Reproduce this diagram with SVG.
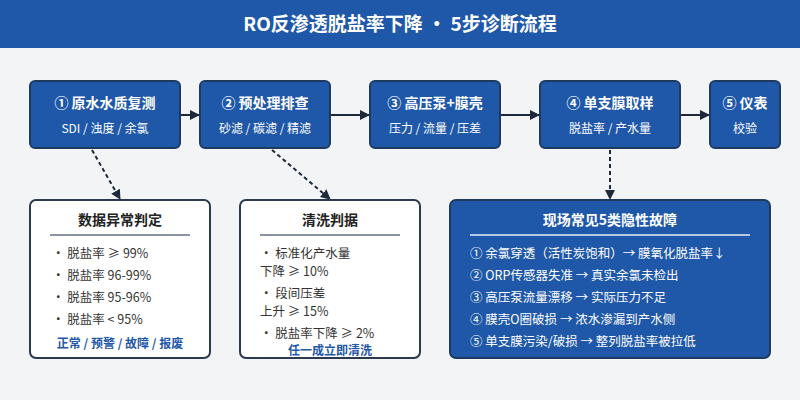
<svg xmlns="http://www.w3.org/2000/svg" width="800" height="400" viewBox="0 0 800 400">
<style>
text{font-family:"Noto Sans CJK SC","Noto Sans",sans-serif}
.n{fill:#1f58a8;stroke:#1e3a5f;stroke-width:2}
.t{fill:#fff;font-size:14px;font-weight:bold;text-anchor:middle}
.s{fill:#fff;font-size:12px;text-anchor:middle}
.w{fill:#fff;stroke:#2b3a4d;stroke-width:2}
.h{fill:#222;font-size:14px;font-weight:bold;text-anchor:middle}
.b{fill:#333;font-size:12.5px}
.c{fill:#1f58a8;font-size:12px;font-weight:bold;text-anchor:middle}
.f{fill:#fff;font-size:12.5px}
</style>
<defs>
<marker id="a" markerWidth="10" markerHeight="10" refX="9" refY="5" orient="auto" markerUnits="userSpaceOnUse"><path d="M0,0L10,5L0,10z" fill="#1e2a3a"/></marker>
</defs>
<rect width="800" height="400" fill="#f3f4f6"/>
<rect width="800" height="48" fill="#1f58a8"/>
<text x="400" y="31" text-anchor="middle" fill="#fff" font-size="19" font-weight="bold">RO反渗透脱盐率下降 · 5步诊断流程</text>
<g id="connectors" stroke="#1e2a3a" stroke-width="2" fill="none">
<line x1="180" y1="115" x2="199" y2="115" marker-end="url(#a)"/>
<line x1="330" y1="115" x2="369" y2="115" marker-end="url(#a)"/>
<line x1="500" y1="115" x2="539" y2="115" marker-end="url(#a)"/>
<line x1="680" y1="115" x2="709" y2="115" marker-end="url(#a)"/>
<line x1="92" y1="150" x2="120" y2="199" stroke-dasharray="4,3" marker-end="url(#a)"/>
<line x1="272" y1="150" x2="330" y2="199" stroke-dasharray="4,3" marker-end="url(#a)"/>
<line x1="610" y1="150" x2="610" y2="199" stroke-dasharray="4,3" marker-end="url(#a)"/>
</g>
<g id="n1"><rect class="n" x="30" y="81" width="150" height="67" rx="5"/><text class="t" x="105" y="108">① 原水水质复测</text><text class="s" x="105" y="133">SDI / 浊度 / 余氯</text></g>
<g id="n2"><rect class="n" x="200" y="81" width="130" height="67" rx="5"/><text class="t" x="265" y="108">② 预处理排查</text><text class="s" x="265" y="133">砂滤 / 碳滤 / 精滤</text></g>
<g id="n3"><rect class="n" x="370" y="81" width="130" height="67" rx="5"/><text class="t" x="435" y="108">③ 高压泵+膜壳</text><text class="s" x="435" y="133">压力 / 流量 / 压差</text></g>
<g id="n4"><rect class="n" x="540" y="81" width="140" height="67" rx="5"/><text class="t" x="610" y="108">④ 单支膜取样</text><text class="s" x="610" y="133">脱盐率 / 产水量</text></g>
<g id="n5"><rect class="n" x="710" y="81" width="70" height="67" rx="5"/><text class="t" x="745" y="108">⑤ 仪表</text><text class="s" x="745" y="133">校验</text></g>
<g id="d1"><rect class="w" x="30" y="200" width="180" height="158" rx="6"/><text class="h" x="120" y="225">数据异常判定</text><line x1="50" y1="235" x2="190" y2="235" stroke="#8a94a3" stroke-width="2"/>
<text class="b" x="52" y="258">・ 脱盐率 ≥ 99%</text><text class="b" x="52" y="280">・ 脱盐率 96-99%</text><text class="b" x="52" y="302">・ 脱盐率 95-96%</text><text class="b" x="52" y="324">・ 脱盐率 &lt; 95%</text><text class="c" x="120" y="348">正常 / 预警 / 故障 / 报废</text></g>
<g id="d2"><rect class="w" x="240" y="200" width="180" height="158" rx="6"/><text class="h" x="330" y="225">清洗判据</text><line x1="260" y1="235" x2="400" y2="235" stroke="#8a94a3" stroke-width="2"/>
<text class="b" x="260" y="258">・ 标准化产水量</text><text class="b" x="260" y="276">下降 ≥ 10%</text><text class="b" x="260" y="298">・ 段间压差</text><text class="b" x="260" y="316">上升 ≥ 15%</text><text class="b" x="260" y="338">・ 脱盐率下降 ≥ 2%</text><text class="c" x="330" y="355">任一成立即清洗</text></g>
<g id="d3"><rect class="n" x="450" y="200" width="320" height="158" rx="6"/><text class="t" x="610" y="225">现场常见5类隐性故障</text><line x1="470" y1="235" x2="750" y2="235" stroke="#b8c7e0" stroke-width="2"/>
<text class="f" x="470" y="258">① 余氯穿透（活性炭饱和）→ 膜氧化脱盐率↓</text><text class="f" x="470" y="280">② ORP传感器失准 → 真实余氯未检出</text><text class="f" x="470" y="302">③ 高压泵流量漂移 → 实际压力不足</text><text class="f" x="470" y="324">④ 膜壳O圈破损 → 浓水渗漏到产水侧</text><text class="f" x="470" y="346">⑤ 单支膜污染/破损 → 整列脱盐率被拉低</text></g>
</svg>
